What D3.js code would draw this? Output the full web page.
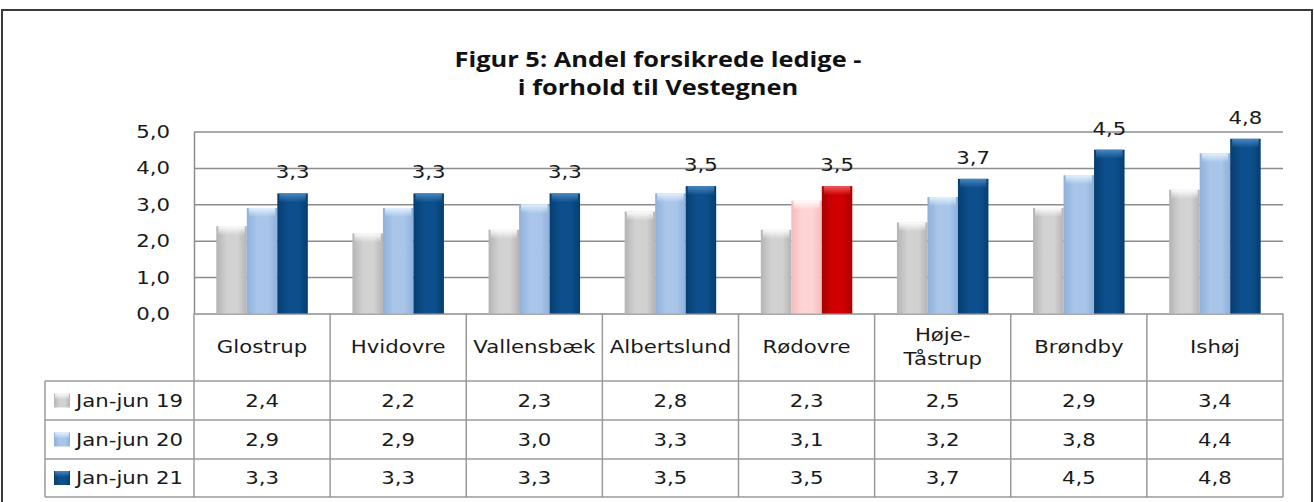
<!DOCTYPE html>
<html>
<head>
<meta charset="utf-8">
<script src="https://cdn.jsdelivr.net/npm/d3@7"></script>
<style>
  body { margin: 0; background: #fff; }
  svg { display: block; }
  text { font-family: "DejaVu Sans", Verdana, sans-serif; fill: #1a1a1a; }
</style>
</head>
<body>
<svg width="1314" height="502"></svg>
<script>
var categories = ["Glostrup", "Hvidovre", "Vallensbæk", "Albertslund", "Rødovre", "Høje-Tåstrup", "Brøndby", "Ishøj"];
var seriesNames = ["Jan-jun 19", "Jan-jun 20", "Jan-jun 21"];
var jan19 = [2.4, 2.2, 2.3, 2.8, 2.3, 2.5, 2.9, 3.4];
var jan20 = [2.9, 2.9, 3.0, 3.3, 3.1, 3.2, 3.8, 4.4];
var jan21 = [3.3, 3.3, 3.3, 3.5, 3.5, 3.7, 4.5, 4.8];
var yTicks = [0, 1, 2, 3, 4, 5];
var highlight = "Rødovre";
var titleLines = ["Figur 5: Andel forsikrede ledige -", "i forhold til Vestegnen"];

var values = [jan19, jan20, jan21];

var svg = d3.select("svg");
var stretch = 1.25; // the source picture is stretched sideways
var fontSize = 17;

var locale = d3.formatLocale({decimal: ",", thousands: ".", grouping: [3], currency: ["", " kr"]});
var fmt = locale.format(".1f");

// colours: [edge, middle, top highlight]
var palette = {
  s0: ["#b4b4b4", "#d2d2d2", "#ffffff"],
  s1: ["#8fb0da", "#a9c6ea", "#e6f4ff"],
  s2: ["#063d70", "#0c4f8c", "#4a8ac6"],
  h1: ["#f4bcbc", "#ffd4d4", "#ffffff"],
  h2: ["#a80000", "#d00000", "#f06060"]
};

var defs = svg.append("defs");
Object.keys(palette).forEach(function(k) {
  var c = palette[k];
  var g = defs.append("linearGradient").attr("id", "body-" + k)
    .attr("x1", 0).attr("x2", 1).attr("y1", 0).attr("y2", 0);
  g.append("stop").attr("offset", "0%").attr("stop-color", c[0]);
  g.append("stop").attr("offset", "35%").attr("stop-color", c[1]);
  g.append("stop").attr("offset", "70%").attr("stop-color", c[1]);
  g.append("stop").attr("offset", "100%").attr("stop-color", c[0]);
  var t = defs.append("linearGradient").attr("id", "top-" + k)
    .attr("x1", 0).attr("x2", 0).attr("y1", 0).attr("y2", 1);
  t.append("stop").attr("offset", "0%").attr("stop-color", c[2]).attr("stop-opacity", 0.95);
  t.append("stop").attr("offset", "100%").attr("stop-color", c[2]).attr("stop-opacity", 0);
});

function colorKey(cat, s) {
  if (cat === highlight && s > 0) return "h" + s;
  return "s" + s;
}

// outer frame
svg.append("rect")
  .attr("x", 2).attr("y", 10).attr("width", 1310).attr("height", 520)
  .attr("fill", "none").attr("stroke", "#3a3a3a").attr("stroke-width", 2);

// title
svg.append("g").selectAll("text")
  .data(titleLines)
  .enter().append("text")
  .attr("transform", function(d, i) { return "translate(658," + (67 + i * 28) + ") scale(1.21,1)"; })
  .attr("text-anchor", "middle")
  .style("font-family", "'Open Sans', sans-serif")
  .style("font-weight", "bold")
  .style("font-size", "21px")
  .style("fill", "#111")
  .text(function(d) { return d; });

var plotLeft = 194, plotRight = 1283;

var x = d3.scaleBand().domain(categories).range([plotLeft, plotRight]).padding(0);
var xs = d3.scaleBand().domain(d3.range(3)).range([0, 91.5]).padding(0);
var groupOffset = (x.bandwidth() - 91.5) / 2;
var y = d3.scaleLinear().domain([0, 5]).range([313.5, 131.5]);

// y axis + gridlines
var yAxis = svg.append("g")
  .attr("transform", "translate(" + plotLeft + ",0)")
  .call(d3.axisLeft(y).tickValues(yTicks).tickFormat(fmt)
    .tickSizeInner(-(plotRight - plotLeft)).tickSizeOuter(0).tickPadding(0));
yAxis.select(".domain").attr("stroke", "#8c8c8c").attr("stroke-width", 1.5);
yAxis.selectAll(".tick line").attr("stroke", "#8c8c8c").attr("stroke-width", 1.5);
yAxis.selectAll(".tick text")
  .attr("x", null).attr("dy", null)
  .attr("transform", "translate(-24,6) scale(" + stretch + ",1)")
  .attr("text-anchor", "end")
  .attr("font-family", null).attr("font-size", null)
  .style("font-size", fontSize + "px")
  .style("fill", "#1a1a1a");

// bars
var barData = [];
categories.forEach(function(cat, i) {
  values.forEach(function(arr, s) {
    barData.push({cat: cat, s: s, v: arr[i]});
  });
});

var bars = svg.append("g").attr("class", "bars");
bars.selectAll("rect.body")
  .data(barData)
  .enter().append("rect")
  .attr("class", "body")
  .attr("x", function(d) { return x(d.cat) + groupOffset + xs(d.s); })
  .attr("y", function(d) { return y(d.v); })
  .attr("width", xs.bandwidth())
  .attr("height", function(d) { return y(0) - y(d.v); })
  .attr("fill", function(d) { return "url(#body-" + colorKey(d.cat, d.s) + ")"; });

bars.selectAll("rect.top")
  .data(barData)
  .enter().append("rect")
  .attr("class", "top")
  .attr("x", function(d) { return x(d.cat) + groupOffset + xs(d.s) + 2; })
  .attr("y", function(d) { return y(d.v); })
  .attr("width", xs.bandwidth() - 4)
  .attr("height", 9)
  .attr("fill", function(d) { return "url(#top-" + colorKey(d.cat, d.s) + ")"; });

// data labels for the last series
svg.append("g").selectAll("text")
  .data(barData.filter(function(d) { return d.s === 2; }))
  .enter().append("text")
  .attr("transform", function(d) {
    return "translate(" + (x(d.cat) + groupOffset + xs(d.s) + xs.bandwidth() / 2) + "," + (y(d.v) - 15) + ") scale(" + stretch + ",1)";
  })
  .attr("text-anchor", "middle")
  .style("font-size", fontSize + "px")
  .text(function(d) { return fmt(d.v); });

// data table
var legendLeft = 45;
var rowY = [313.5, 381, 420, 459, 497];
var gridColor = "#9a9a9a";
var table = svg.append("g").attr("class", "table");

// horizontal lines
table.selectAll("line.h")
  .data(rowY.slice(1))
  .enter().append("line")
  .attr("x1", legendLeft).attr("x2", plotRight)
  .attr("y1", function(d) { return d; }).attr("y2", function(d) { return d; })
  .attr("stroke", gridColor).attr("stroke-width", 1.5);

// vertical lines
var colEdges = categories.map(function(c) { return x(c); }).concat([plotRight]);
table.selectAll("line.v")
  .data(colEdges)
  .enter().append("line")
  .attr("x1", function(d) { return d; }).attr("x2", function(d) { return d; })
  .attr("y1", rowY[0]).attr("y2", rowY[4])
  .attr("stroke", gridColor).attr("stroke-width", 1.5);
table.append("line")
  .attr("x1", legendLeft).attr("x2", legendLeft)
  .attr("y1", rowY[1]).attr("y2", rowY[4])
  .attr("stroke", gridColor).attr("stroke-width", 1.5);

// category headers
var headers = table.selectAll("text.cat")
  .data(categories)
  .enter().append("text")
  .attr("class", "cat")
  .attr("text-anchor", "middle")
  .style("font-size", fontSize + "px");
headers.each(function(d) {
  var parts = d.indexOf("-") > 0 ? [d.slice(0, d.indexOf("-") + 1), d.slice(d.indexOf("-") + 1)] : [d];
  var cx = x(d) + x.bandwidth() / 2;
  var mid = (rowY[0] + rowY[1]) / 2;
  d3.select(this).selectAll("tspan")
    .data(parts)
    .enter().append("tspan")
    .attr("x", 0)
    .attr("y", function(p, i) { return (i - (parts.length - 1) / 2) * 24 + 6; })
    .text(function(p) { return p; });
  d3.select(this).attr("transform", "translate(" + cx + "," + mid + ") scale(" + stretch + ",1)");
});

// legend column
seriesNames.forEach(function(name, s) {
  var cy = (rowY[s + 1] + rowY[s + 2]) / 2;
  table.append("rect")
    .attr("x", 54).attr("y", cy - 7).attr("width", 16).attr("height", 14)
    .attr("fill", "url(#body-s" + s + ")");
  table.append("rect")
    .attr("x", 55).attr("y", cy - 7).attr("width", 14).attr("height", 6)
    .attr("fill", "url(#top-s" + s + ")");
  table.append("text")
    .attr("transform", "translate(76," + (cy + 6) + ") scale(" + stretch + ",1)")
    .style("font-size", fontSize + "px")
    .text(name);

  table.selectAll("text.val" + s)
    .data(values[s])
    .enter().append("text")
    .attr("class", "val" + s)
    .attr("text-anchor", "middle")
    .attr("transform", function(v, i) {
      return "translate(" + (x(categories[i]) + x.bandwidth() / 2) + "," + (cy + 6) + ") scale(" + stretch + ",1)";
    })
    .style("font-size", fontSize + "px")
    .text(function(v) { return fmt(v); });
});
</script>
</body>
</html>
